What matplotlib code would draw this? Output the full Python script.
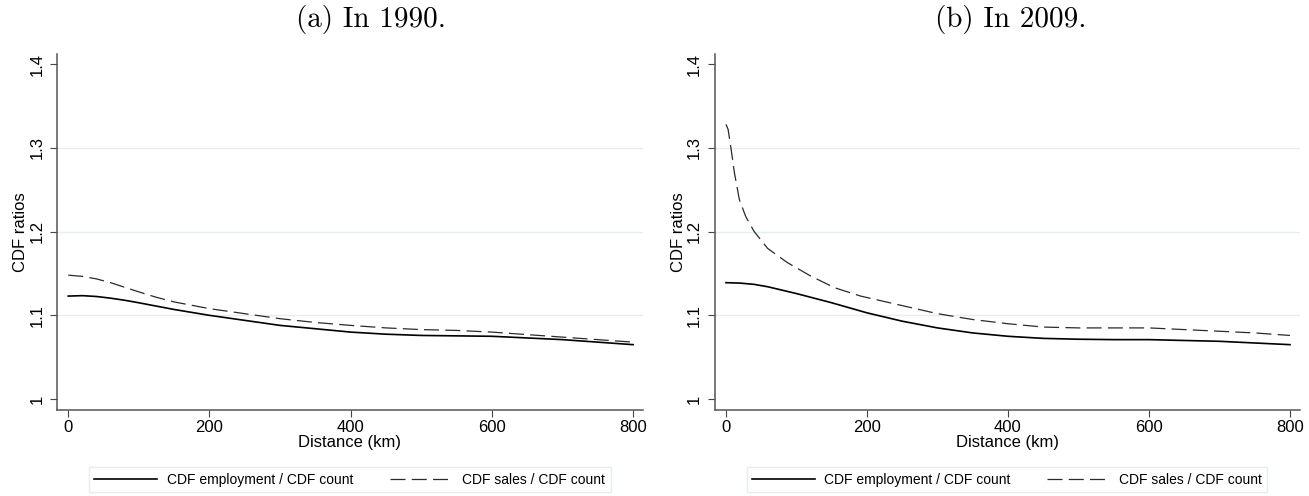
import matplotlib
matplotlib.use("Agg")
import matplotlib.pyplot as plt

# CDF ratios by distance
dist_90_emp = [0, 20, 40, 60, 80, 100, 125, 150, 175, 200, 250, 300, 350, 400, 450, 500,
               550, 600, 650, 700, 750, 800]
emp_90 = [1.123, 1.1235, 1.1225, 1.1205, 1.118, 1.115, 1.111, 1.107, 1.1035, 1.100,
          1.094, 1.088, 1.084, 1.080, 1.0775, 1.076, 1.0755, 1.075, 1.073, 1.071, 1.068, 1.065]
dist_90_sal = [0, 20, 40, 60, 80, 100, 125, 150, 175, 200, 250, 300, 350, 400, 450, 500,
               550, 600, 650, 700, 750, 800]
sal_90 = [1.148, 1.1465, 1.1435, 1.139, 1.1335, 1.128, 1.1215, 1.116, 1.112, 1.108,
          1.102, 1.096, 1.0915, 1.088, 1.085, 1.083, 1.082, 1.080, 1.077, 1.074, 1.071, 1.068]

dist_09_emp = [0, 20, 40, 60, 80, 100, 125, 150, 175, 200, 250, 300, 350, 400, 450, 500,
               550, 600, 650, 700, 750, 800]
emp_09 = [1.139, 1.1385, 1.137, 1.134, 1.130, 1.126, 1.1205, 1.115, 1.109, 1.103,
          1.093, 1.085, 1.079, 1.075, 1.0725, 1.0715, 1.071, 1.071, 1.070, 1.069, 1.067, 1.065]
dist_09_sal = [0, 3, 7, 12, 19, 28, 40, 59, 87, 120, 154, 191, 248, 300, 350, 400, 450,
               500, 550, 600, 650, 700, 750, 800]
sal_09 = [1.328, 1.322, 1.300, 1.270, 1.238, 1.218, 1.200, 1.180, 1.163, 1.147, 1.133,
          1.123, 1.112, 1.102, 1.095, 1.090, 1.086, 1.085, 1.085, 1.085, 1.083, 1.081,
          1.079, 1.076]

titles = ["(a) In 1990.", "(b) In 2009."]
labels = ["CDF employment / CDF count", "CDF sales / CDF count"]
xticks = [0, 200, 400, 600, 800]
yticks = [1.0, 1.1, 1.2, 1.3, 1.4]
ytick_labels = ["1", "1.1", "1.2", "1.3", "1.4"]
grid_vals = [1.1, 1.2, 1.3]

plt.rcParams["font.family"] = ["Liberation Sans", "DejaVu Sans"]

fig = plt.figure(figsize=(13.09, 4.96), dpi=100)
ax_a = fig.add_axes([0.0435, 0.1734, 0.4477, 0.7177])
ax_b = fig.add_axes([0.546, 0.1734, 0.447, 0.7177])

panels = [
    (ax_a, dist_90_emp, emp_90, dist_90_sal, sal_90, titles[0], 371),
    (ax_b, dist_09_emp, emp_09, dist_09_sal, sal_09, titles[1], 1011),
]

for ax, xe, ye, xs, ys, title, tx in panels:
    for g in grid_vals:
        ax.axhline(g, color="#e4eef1", lw=1.0, zorder=0)
    ax.plot(xe, ye, color="black", lw=1.2, label=labels[0])
    ax.plot(xs, ys, color="#2a2a2a", lw=0.9, dashes=(12, 5), label=labels[1])

    ax.set_xlim(-16, 814)
    ax.set_ylim(0.987, 1.412)
    ax.set_xticks(xticks)
    ax.set_yticks(yticks)
    ax.set_yticklabels(ytick_labels)
    ax.tick_params(axis="both", direction="out", length=5, width=0.8,
                   color="#444444", labelsize=12)
    ax.tick_params(axis="y", labelrotation=90, pad=4)
    ax.tick_params(axis="x", pad=2)
    for lab in ax.get_yticklabels():
        lab.set_va("center")
    for side in ["top", "right"]:
        ax.spines[side].set_visible(False)
    for side in ["left", "bottom"]:
        ax.spines[side].set_color("#555555")
        ax.spines[side].set_linewidth(1.1)

    ax.set_xlabel("Distance (km)", fontsize=12, labelpad=0)
    ax.set_ylabel("CDF ratios", fontsize=12, labelpad=1)

    leg = ax.legend(loc="center", ncol=2, mode="expand",
                    bbox_to_anchor=(0.0546, -0.239, 0.89, 0.087),
                    fontsize=10, handlelength=4.5, handletextpad=0.7,
                    fancybox=False, borderaxespad=0, frameon=True)
    leg.get_frame().set_edgecolor("#dfe9ec")
    leg.get_frame().set_linewidth(1.0)

    fig.text(tx / 1309, 1 - 19 / 496, title, family="cmr10", fontsize=21,
             ha="center", va="center")

fig.savefig("out.png", dpi=100)
